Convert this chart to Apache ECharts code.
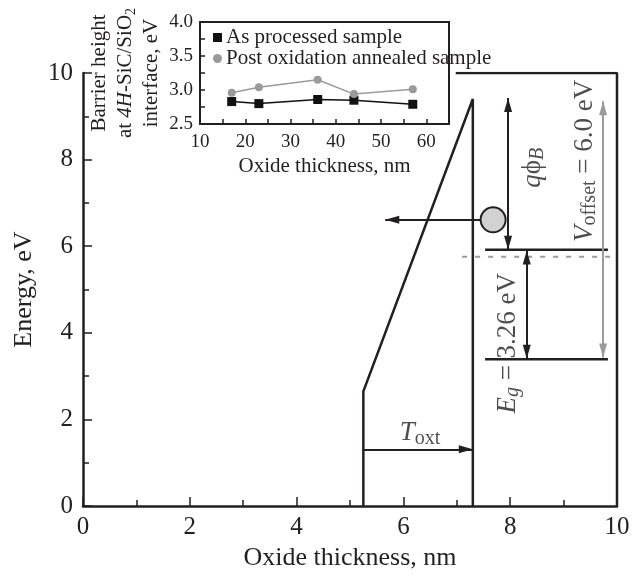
<!DOCTYPE html>
<html><head><meta charset="utf-8">
<script src="https://cdn.jsdelivr.net/npm/echarts@6/dist/echarts.min.js"></script>
<style>html,body{margin:0;padding:0;background:#fff}#c{width:642px;height:576px}</style>
</head><body><div id="c"></div>
<script>
// ---- Inset data ----
const insetThickness = [17, 23, 36, 44, 57];
const asProcessed = [2.83, 2.80, 2.86, 2.85, 2.79];
const postOxAnnealed = [2.96, 3.04, 3.15, 2.94, 3.01];
const insetXLabels = [10, 20, 30, 40, 50, 60];
const insetYLabels = [2.5, 3.0, 3.5, 4.0];
const mainXLabels = [0, 2, 4, 6, 8, 10];
const mainYLabels = [0, 2, 4, 6, 8, 10];

// ---- Band diagram (x: nm, y: eV) ----
const oxideProfile = [[5.25, 0], [5.25, 2.65], [7.3, 9.4], [7.3, 0]];
const frameTopRight = [[6.98, 10], [10, 10], [10, 0]];
const conductionBand = [[7.53, 5.92], [9.83, 5.92]];
const valenceBand = [[7.53, 3.39], [9.83, 3.39]];
const midLevel = [[7.1, 5.76], [10, 5.76]];
const arrowQPhiB = [[7.96, 9.42], [7.96, 5.92]];
const arrowEg = [[8.31, 5.9], [8.31, 3.4]];
const arrowVoffset = [[9.74, 9.35], [9.74, 3.43]];
const arrowElectron = [[7.45, 6.61], [5.66, 6.61]];
const arrowToxt = [[5.25, 1.31], [7.3, 1.31]];
const electron = [[7.68, 6.61]];
const annotations = [
  { pos: [6.31, 1.68], rotate: 0, text: '{i|T}{s|oxt}' },
  { pos: [8.43, 7.81], rotate: 90, text: '{i|q}{n|\u03D5}{si|B}' },
  { pos: [7.95, 3.76], rotate: 90, text: '{i|E}{si|g}{n| = 3.26 eV}' },
  { pos: [9.40, 7.97], rotate: 90, text: '{i|V}{s|offset}{n| = 6.0 eV}' }
];

const F = '"Liberation Serif", "Times New Roman", serif';
const INK = '#231f20';
const GRAY = '#9a9a9a';
const ARROW = 'path://M0,-14M0,0L4,14L-4,14Z';

const richBig = {
  n: { fontFamily: F, fontSize: 27, color: INK, lineHeight: 30 },
  i: { fontFamily: F, fontSize: 27, fontStyle: 'italic', color: INK, lineHeight: 30 },
  s: { fontFamily: F, fontSize: 20, color: INK, lineHeight: 19, verticalAlign: 'bottom' },
  si: { fontFamily: F, fontSize: 20, fontStyle: 'italic', color: INK, lineHeight: 19, verticalAlign: 'bottom' }
};

function arrowSeries(coords, color, both) {
  return {
    type: 'lines', coordinateSystem: 'cartesian2d', xAxisIndex: 0, yAxisIndex: 0,
    symbol: both ? [ARROW, ARROW] : ['none', ARROW],
    symbolSize: [[8, 28], [8, 28]],
    lineStyle: { color: color, width: 2, opacity: 1 },
    itemStyle: { color: color },
    data: [{ coords: coords }],
    silent: true, z: 3
  };
}
function lineSeries(data, color, width, type) {
  return {
    type: 'line', xAxisIndex: 0, yAxisIndex: 0, data: data, showSymbol: false, symbol: 'none',
    lineStyle: { color: color, width: width, type: type || 'solid' }, silent: true, z: 2
  };
}

const tickStyle = { color: INK, width: 1.5 };
const chart = echarts.init(document.getElementById('c'), null, { renderer: 'canvas' });
chart.setOption({
  animation: false,
  backgroundColor: '#fff',
  grid: [
    { left: 83, top: 73, width: 534, height: 434, show: false },
    { left: 200, top: 22, width: 249, height: 102, show: true, borderColor: INK, borderWidth: 2, backgroundColor: 'transparent' }
  ],
  legend: {
    left: 213, top: 27, orient: 'vertical', itemGap: 0, itemWidth: 9, itemHeight: 9, padding: 0,
    textStyle: { fontFamily: F, fontSize: 21, lineHeight: 20, color: INK, padding: [0, 0, 0, -1] },
    data: [{ name: 'As processed sample', icon: 'rect' }, { name: 'Post oxidation annealed sample', icon: 'circle' }]
  },
  xAxis: [
    {
      type: 'value', gridIndex: 0, min: 0, max: 10, interval: 2,
      axisLine: { onZero: false, lineStyle: { color: INK, width: 2.5 } },
      axisTick: { inside: true, length: 9, lineStyle: tickStyle },
      minorTick: { show: true, splitNumber: 2, length: 6, lineStyle: tickStyle },
      axisLabel: { color: INK, fontFamily: F, fontSize: 25, margin: 9,
        formatter: v => mainXLabels.includes(v) ? String(v) : '' },
      splitLine: { show: false },
      name: 'Oxide thickness, nm', nameLocation: 'middle', nameGap: 37,
      nameTextStyle: { color: INK, fontFamily: F, fontSize: 26 }
    },
    {
      type: 'value', gridIndex: 1, min: 10, max: 65, interval: 5,
      axisLine: { onZero: false, lineStyle: { color: INK, width: 2 } },
      axisTick: { inside: true, length: 5, lineStyle: tickStyle },
      axisLabel: { color: INK, fontFamily: F, fontSize: 19, margin: 9,
        formatter: v => insetXLabels.includes(v) ? String(v) : '' },
      splitLine: { show: false },
      name: 'Oxide thickness, nm', nameLocation: 'middle', nameGap: 32,
      nameTextStyle: { color: INK, fontFamily: F, fontSize: 21 }
    }
  ],
  yAxis: [
    {
      type: 'value', gridIndex: 0, min: 0, max: 10, interval: 2,
      axisLine: { onZero: false, lineStyle: { color: INK, width: 2.5 } },
      axisTick: { inside: true, length: 9, lineStyle: tickStyle },
      minorTick: { show: true, splitNumber: 2, length: 6, lineStyle: tickStyle },
      axisLabel: { color: INK, fontFamily: F, fontSize: 25, margin: 10,
        formatter: v => mainYLabels.includes(v) ? String(v) : '' },
      splitLine: { show: false },
      name: 'Energy, eV', nameLocation: 'middle', nameGap: 45,
      nameTextStyle: { color: INK, fontFamily: F, fontSize: 26 }
    },
    {
      type: 'value', gridIndex: 1, min: 2.5, max: 4.0, interval: 0.25,
      axisLine: { onZero: false, lineStyle: { color: INK, width: 2 } },
      axisTick: { inside: true, length: 5, lineStyle: tickStyle },
      axisLabel: { color: INK, fontFamily: F, fontSize: 19, margin: 7,
        formatter: v => insetYLabels.some(t => Math.abs(t - v) < 1e-9) ? v.toFixed(1) : '' },
      splitLine: { show: false },
      name: 'Barrier height\nat {i|4H}-SiC/SiO{s|2}\ninterface, eV', nameLocation: 'middle', nameGap: 36,
      nameTextStyle: {
        color: INK, fontFamily: F, fontSize: 21, lineHeight: 26,
        rich: {
          i: { fontFamily: F, fontSize: 21, fontStyle: 'italic', color: INK, lineHeight: 26 },
          s: { fontFamily: F, fontSize: 14, color: INK, lineHeight: 15, verticalAlign: 'bottom' }
        }
      }
    }
  ],
  series: [
    lineSeries(oxideProfile, INK, 2.5),
    lineSeries(frameTopRight, INK, 2.5),
    lineSeries(conductionBand, INK, 2.5),
    lineSeries(valenceBand, INK, 2.5),
    lineSeries(midLevel, GRAY, 2, [5, 8]),
    arrowSeries(arrowQPhiB, INK, true),
    arrowSeries(arrowEg, INK, true),
    arrowSeries(arrowVoffset, GRAY, true),
    arrowSeries(arrowElectron, INK, false),
    arrowSeries(arrowToxt, INK, false),
    {
      type: 'scatter', xAxisIndex: 0, yAxisIndex: 0, data: electron, symbolSize: 25, z: 5,
      itemStyle: { color: '#d2d2d2', borderColor: INK, borderWidth: 2, opacity: 1 }, silent: true
    },
    {
      type: 'scatter', xAxisIndex: 0, yAxisIndex: 0, symbolSize: 0, silent: true, z: 6,
      data: annotations.map(a => ({
        value: a.pos,
        label: { show: true, position: 'inside', rotate: a.rotate, formatter: a.text, rich: richBig,
          align: 'center', verticalAlign: 'middle' }
      }))
    },
    {
      name: 'As processed sample', type: 'line', xAxisIndex: 1, yAxisIndex: 1,
      data: insetThickness.map((x, k) => [x, asProcessed[k]]),
      symbol: 'rect', symbolSize: 9, showAllSymbol: true,
      lineStyle: { color: '#111', width: 1.5 }, itemStyle: { color: '#111' }, z: 4
    },
    {
      name: 'Post oxidation annealed sample', type: 'line', xAxisIndex: 1, yAxisIndex: 1,
      data: insetThickness.map((x, k) => [x, postOxAnnealed[k]]),
      symbol: 'circle', symbolSize: 8, showAllSymbol: true,
      lineStyle: { color: GRAY, width: 1.5 }, itemStyle: { color: GRAY }, z: 4
    }
  ]
});
</script></body></html>
